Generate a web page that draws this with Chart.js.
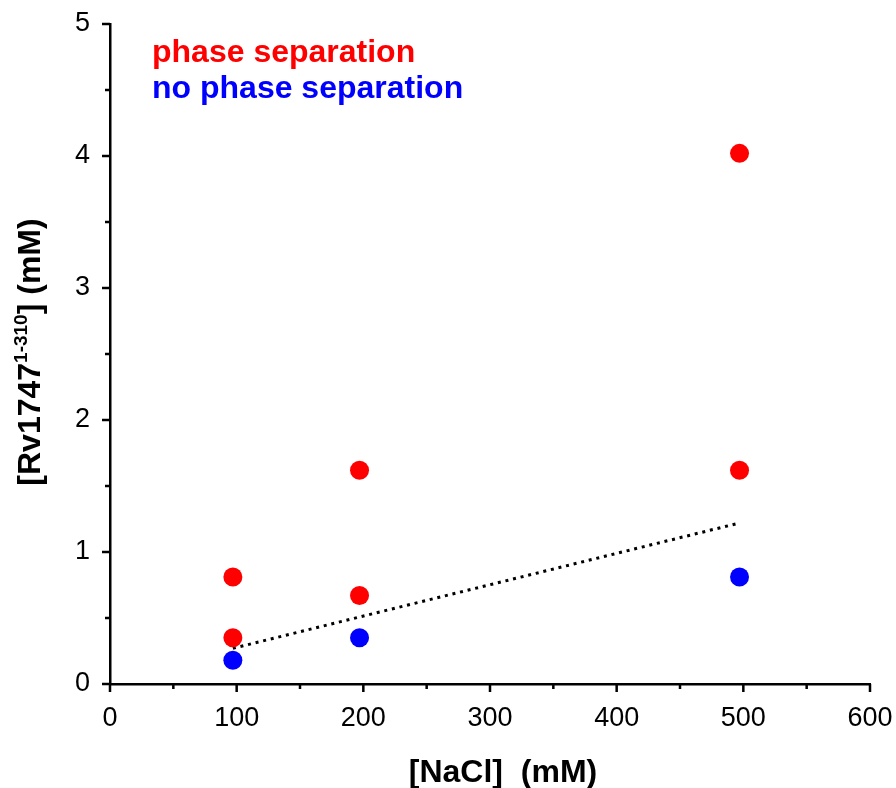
<!DOCTYPE html>
<html>
<head>
<meta charset="utf-8">
<script src="https://cdn.jsdelivr.net/npm/chart.js@4.4.1/dist/chart.umd.min.js"></script>
<style>
  body { margin: 0; background: #fff; }
  canvas { display: block; }
</style>
</head>
<body>
<canvas id="chart" width="896" height="788"></canvas>
<script>
// data
const phaseSepX = [97, 97, 197, 197, 497, 497];
const phaseSepY = [0.81, 0.35, 1.62, 0.67, 4.02, 1.62];
const noPhaseSepX = [97, 197, 497];
const noPhaseSepY = [0.18, 0.35, 0.81];
const trendX = [97, 497];
const trendY = [0.27, 1.22];

const xTicks = [0, 100, 200, 300, 400, 500, 600];
const yTicks = [0, 1, 2, 3, 4, 5];

const FONT = '"Liberation Sans", Arial, sans-serif';

function toPoints(xs, ys) {
    return xs.map((x, i) => ({ x: x, y: ys[i] }));
}

// tick marks: long at labelled values, short in between
const tickMarks = {
    id: 'tickMarks',
    afterDraw(chart) {
        const ctx = chart.ctx;
        const xs = chart.scales.x;
        const ys = chart.scales.y;
        ctx.save();
        ctx.strokeStyle = '#000';
        ctx.lineWidth = 2.5;
        ctx.beginPath();
        xs.ticks.forEach(t => {
            const px = xs.getPixelForValue(t.value);
            const len = xTicks.includes(t.value) ? 8 : 5;
            ctx.moveTo(px, xs.top);
            ctx.lineTo(px, xs.top + len);
        });
        ys.ticks.forEach(t => {
            const py = ys.getPixelForValue(t.value);
            const len = yTicks.includes(t.value) ? 8 : 5;
            ctx.moveTo(ys.right, py);
            ctx.lineTo(ys.right - len, py);
        });
        ctx.stroke();
        ctx.restore();
    }
};

// axis titles (y one has a superscript) and the coloured legend text
const labels = {
    id: 'labels',
    afterDraw(chart) {
        const ctx = chart.ctx;
        ctx.save();

        // legend
        ctx.font = 'bold 32px ' + FONT;
        ctx.textBaseline = 'alphabetic';
        ctx.textAlign = 'left';
        ctx.fillStyle = '#ff0000';
        ctx.fillText('phase separation', 152, 62);
        ctx.fillStyle = '#0000ff';
        ctx.fillText('no phase separation', 152, 98);

        // x axis title
        ctx.fillStyle = '#000';
        ctx.textAlign = 'center';
        ctx.font = 'bold 32px ' + FONT;
        ctx.fillText('[NaCl]  (mM)', 503, 782);

        // y axis title
        ctx.textAlign = 'left';
        const parts = [
            { text: '[Rv1747', font: 'bold 32px ' + FONT, rise: 0 },
            { text: '1-310', font: 'bold 19px ' + FONT, rise: 13 },
            { text: '] (mM)', font: 'bold 32px ' + FONT, rise: 0 }
        ];
        let total = 0;
        parts.forEach(p => {
            ctx.font = p.font;
            p.w = ctx.measureText(p.text).width;
            total += p.w;
        });
        ctx.translate(40, 352);
        ctx.rotate(-Math.PI / 2);
        let x = -total / 2;
        parts.forEach(p => {
            ctx.font = p.font;
            ctx.fillText(p.text, x, -p.rise);
            x += p.w;
        });
        ctx.restore();
    }
};

function fixWidth(w) {
    return function (scale) {
        scale.width = w;
        scale.paddingLeft = 0; scale.paddingRight = 0;
        scale.paddingTop = 0; scale.paddingBottom = 0;
    };
}
function fixHeight(h) {
    return function (scale) {
        scale.height = h;
        scale.paddingLeft = 0; scale.paddingRight = 0;
        scale.paddingTop = 0; scale.paddingBottom = 0;
    };
}

new Chart(document.getElementById('chart'), {
    type: 'scatter',
    data: {
        datasets: [
            {
                label: 'phase separation',
                data: toPoints(phaseSepX, phaseSepY),
                backgroundColor: '#ff0000',
                borderWidth: 0,
                pointRadius: 9.5
            },
            {
                label: 'no phase separation',
                data: toPoints(noPhaseSepX, noPhaseSepY),
                backgroundColor: '#0000ff',
                borderWidth: 0,
                pointRadius: 9.5
            },
            {
                label: 'trend',
                data: toPoints(trendX, trendY),
                showLine: true,
                borderColor: '#000',
                borderWidth: 3,
                borderDash: [3, 4.8],
                borderCapStyle: 'butt',
                pointRadius: 0
            }
        ]
    },
    options: {
        responsive: false,
        animation: false,
        devicePixelRatio: 1,
        layout: { padding: { top: 24, right: 26, left: 0, bottom: 0 } },
        plugins: {
            legend: { display: false },
            tooltip: { enabled: false }
        },
        scales: {
            x: {
                type: 'linear',
                min: 0,
                max: 600,
                afterFit: fixHeight(104),
                grid: { display: false, drawTicks: false },
                border: { display: true, color: '#000', width: 2.5 },
                ticks: {
                    stepSize: 50,
                    autoSkip: false,
                    maxRotation: 0,
                    padding: 18,
                    color: '#000',
                    font: { family: FONT, size: 27 },
                    callback: v => xTicks.includes(v) ? String(v) : ''
                }
            },
            y: {
                type: 'linear',
                min: 0,
                max: 5,
                afterFit: fixWidth(110),
                grid: { display: false, drawTicks: false },
                border: { display: true, color: '#000', width: 2.5 },
                ticks: {
                    stepSize: 0.5,
                    autoSkip: false,
                    padding: 20,
                    color: '#000',
                    font: { family: FONT, size: 27 },
                    callback: v => yTicks.includes(v) ? String(v) : ''
                }
            }
        }
    },
    plugins: [tickMarks, labels]
});
</script>
</body>
</html>
